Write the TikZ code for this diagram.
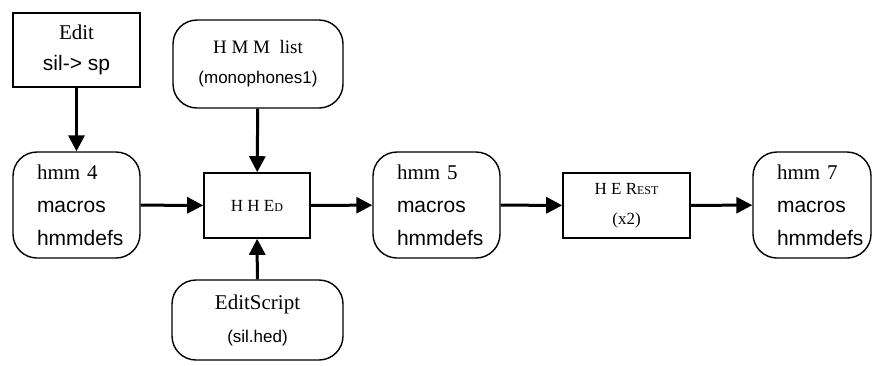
\documentclass[tikz,border=0pt]{standalone}
\usepackage{fontspec}
\setmainfont{Liberation Serif}
\setsansfont{Liberation Sans}
\usetikzlibrary{arrows.meta}
\newcommand{\smallcap}[1]{{\fontsize{12}{12}\selectfont #1}}
\begin{document}
\begin{tikzpicture}[x=1pt,y=-1pt,
  sqbox/.style={draw,line width=1.6pt,rectangle,inner sep=0pt,align=center},
  rbox/.style={draw,line width=1.4pt,rectangle,rounded corners=24pt,inner sep=0pt,align=center},
  hmmbox/.style={draw,line width=1.4pt,rectangle,rounded corners=24pt,inner ysep=0pt,inner xsep=24pt,align=left,minimum height=106pt},
  conn/.style={line width=3pt,-{Triangle[length=16pt,width=16pt]}}
]
\useasboundingbox (0,0) rectangle (872,365);
\node[sqbox,minimum width=127pt,minimum height=74pt,font=\fontsize{21}{31}\selectfont] (edit) at (76.5,50) {Edit\\\sffamily sil-> sp};
\node[rbox,minimum width=170pt,minimum height=88pt,font=\fontsize{19}{30}\selectfont] (hmmlist) at (258,64) {H M M\ \ list\\\fontsize{17}{30}\selectfont\sffamily (monophones1)};
\node[hmmbox,text width=79pt,font=\fontsize{21}{33}\selectfont] (hmm4) at (76.5,205) {hmm 4\\\sffamily macros\\\sffamily hmmdefs};
\node[sqbox,minimum width=106pt,minimum height=65pt,font=\fontsize{17}{24}\selectfont] (hhed) at (257,205.5) {H H E\smallcap{D}};
\node[rbox,minimum width=171pt,minimum height=80pt,font=\fontsize{21}{33}\selectfont] (edscr) at (257.5,320) {EditScript\\\fontsize{17}{33}\selectfont\sffamily (sil.hed)};
\node[hmmbox,text width=79pt,font=\fontsize{21}{33}\selectfont] (hmm5) at (436.5,205) {hmm 5\\\sffamily macros\\\sffamily hmmdefs};
\node[sqbox,minimum width=127pt,minimum height=65pt,font=\fontsize{17}{30}\selectfont] (herest) at (626.5,205.5) {H E R\smallcap{EST}\\(x2)};
\node[hmmbox,text width=70pt,font=\fontsize{21}{33}\selectfont] (hmm7) at (812,205) {hmm 7\\\sffamily macros\\\sffamily hmmdefs};
\draw[conn] (edit) -- (hmm4);
\draw[conn] (hmmlist) -- (hhed);
\draw[conn] (edscr) -- (hhed);
\draw[conn] (hmm4) -- (hhed);
\draw[conn] (hhed) -- (hmm5);
\draw[conn] (hmm5) -- (herest);
\draw[conn] (herest) -- (hmm7);
\end{tikzpicture}
\end{document}
